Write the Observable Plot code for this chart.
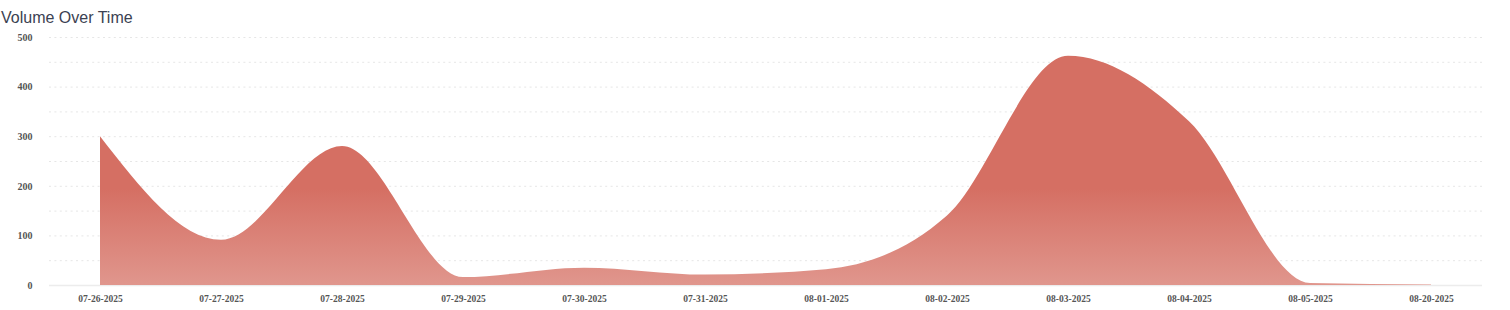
<!DOCTYPE html>
<html>
<head>
<meta charset="utf-8">
<script src="https://cdn.jsdelivr.net/npm/d3@7"></script>
<script src="https://cdn.jsdelivr.net/npm/@observablehq/plot@0.6"></script>
<style>
  html, body { margin: 0; padding: 0; background: #fff; }
  #title { font: 16px "Liberation Sans", Arial, sans-serif; color: #3b4252; line-height: 20px; padding: 8px 0 0 1px; height: 20px; }
  svg { display: block; }
</style>
</head>
<body>
<div id="title">Volume Over Time</div>
<div id="chart"></div>
<script>
const dates = ["07-26-2025","07-27-2025","07-28-2025","07-29-2025","07-30-2025","07-31-2025","08-01-2025","08-02-2025","08-03-2025","08-04-2025","08-05-2025","08-20-2025"];
const volumes = [300, 91, 280, 16, 35, 21, 32, 140, 462, 330, 4, 1];
const yTicks = [0, 100, 200, 300, 400, 500];
const gridValues = [50, 100, 150, 200, 250, 300, 350, 400, 450, 500];

const data = dates.map((d, i) => ({date: d, volume: volumes[i]}));

const chart = Plot.plot({
  width: 1510,
  height: 282,
  marginLeft: 49,
  marginRight: 28,
  marginTop: 9,
  marginBottom: 25,
  style: {fontFamily: "'Liberation Serif', 'Times New Roman', serif", fontWeight: "bold", color: "#555", background: "#fff"},
  x: {type: "point", domain: dates, padding: 0.41, label: null},
  y: {domain: [0, 500], label: null},
  marks: [
    Plot.ruleY(gridValues, {stroke: "#e6e6e6", strokeWidth: 1, strokeDasharray: "2,3.4"}),
    Plot.ruleY([0], {stroke: "#ececec", strokeWidth: 1.5}),
    Plot.areaY(data, {x: "date", y: "volume", curve: "monotone-x", fill: "url(#volGrad)"}),
    Plot.axisY({ticks: yTicks, tickSize: 0, tickPadding: 17, fontSize: 10, label: null, fill: "#555"}),
    Plot.axisX({tickSize: 0, tickPadding: 10, fontSize: 9.5, label: null, fill: "#555"})
  ]
});

const defs = d3.select(chart).insert("defs", ":first-child");
const grad = defs.append("linearGradient").attr("id", "volGrad").attr("x1", 0).attr("y1", 0).attr("x2", 0).attr("y2", 1);
grad.append("stop").attr("offset", "0").attr("stop-color", "#d56f63");
grad.append("stop").attr("offset", "0.58").attr("stop-color", "#d56f63");
grad.append("stop").attr("offset", "1").attr("stop-color", "#e0968d");

document.getElementById("chart").appendChild(chart);
</script>
</body>
</html>
